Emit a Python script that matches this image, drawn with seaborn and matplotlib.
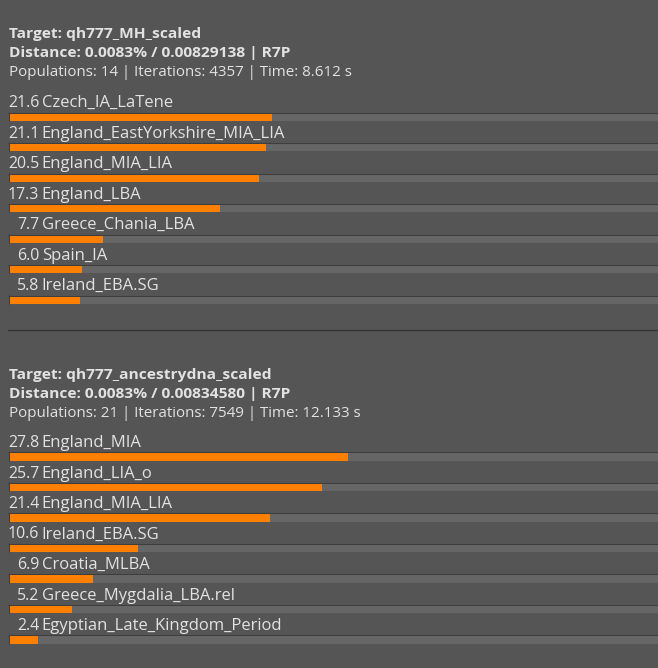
import numpy as np
import matplotlib
matplotlib.use("Agg")
import matplotlib.pyplot as plt
import matplotlib.transforms as mtransforms
import seaborn as sns

# ---------------- data ----------------
headers1 = ["Target: qh777_MH_scaled",
            "Distance: 0.0083% / 0.00829138 | R7P",
            "Populations: 14 | Iterations: 4357 | Time: 8.612 s"]
pops1 = ["Czech_IA_LaTene", "England_EastYorkshire_MIA_LIA", "England_MIA_LIA",
         "England_LBA", "Greece_Chania_LBA", "Spain_IA", "Ireland_EBA.SG"]
vals1 = [21.6, 21.1, 20.5, 17.3, 7.7, 6.0, 5.8]

headers2 = ["Target: qh777_ancestrydna_scaled",
            "Distance: 0.0083% / 0.00834580 | R7P",
            "Populations: 21 | Iterations: 7549 | Time: 12.133 s"]
pops2 = ["England_MIA", "England_LIA_o", "England_MIA_LIA", "Ireland_EBA.SG",
         "Croatia_MLBA", "Greece_Mygdalia_LBA.rel", "Egyptian_Late_Kingdom_Period"]
vals2 = [27.8, 25.7, 21.4, 10.6, 6.9, 5.2, 2.4]

# ---------------- style ----------------
W, H = 658, 668
BG = "#555555"
TRACK = "#666666"
BORDER = "#3e3e3e"
ORANGE = "#ff8000"
TXT = "#e2e2e2"
FONT = "Open Sans"
FS_HEAD = 10.9
FS_BOLD = 11.15
FS_NUM = 11.4
FS_NAME = 11.95

sns.set_theme(style="white")
plt.rcParams["font.family"] = [FONT, "DejaVu Sans"]

fig = plt.figure(figsize=(W / 100, H / 100), dpi=100, facecolor=BG)

PX_PER_UNIT = 12.18   # bar length pixels per percent
PITCH = 30.5          # row pitch in pixels
FILL_H = 7.8          # bar thickness in pixels
X0 = 9                # left of bars in pixels


def panel(headers, pops, vals, header_base, first_center):
    # headers
    for i, t in enumerate(headers):
        y = header_base + [0, 19.0, 37.7][i]
        fig.text(X0 / W, 1 - y / H, t, color=TXT,
                 fontsize=FS_BOLD if i < 2 else FS_HEAD,
                 fontweight="bold" if i < 2 else "normal",
                 va="baseline", ha="left")
    n = len(pops)
    top = first_center - PITCH / 2
    bottom = first_center + PITCH * (n - 1) + PITCH / 2
    ax = fig.add_axes([X0 / W, 1 - bottom / H, (W - X0) / W, (bottom - top) / H])
    ax.set_facecolor("none")
    xmax = (W - X0) / PX_PER_UNIT
    h = FILL_H / PITCH
    track = [xmax] * n
    sns.barplot(x=track, y=pops, order=pops, color=TRACK, saturation=1,
                width=h, linewidth=0, ax=ax)
    sns.barplot(x=vals, y=pops, order=pops, color=ORANGE, saturation=1,
                width=h, linewidth=0, ax=ax)
    ax.set_xlim(0, xmax)
    ax.set_ylim(n - 0.5, -0.5)
    pos = np.arange(n)
    # top and left border line of each track
    ax.hlines(pos - h / 2 - 0.5 / PITCH, -1 / PX_PER_UNIT, xmax, color=BORDER,
              lw=0.75, clip_on=False)
    ax.vlines(np.full(n, -0.5 / PX_PER_UNIT), pos - h / 2 - 1 / PITCH, pos + h / 2,
              color=BORDER, lw=0.75, clip_on=False)
    # labels
    base = mtransforms.offset_copy(ax.get_yaxis_transform(), fig=fig, x=0, y=9.7,
                                   units="dots")
    xn = (39.3 - X0) / (W - X0)
    xl = (41.7 - X0) / (W - X0)
    for p, v, name in zip(pos, vals, pops):
        ax.text(xn, p, f"{v:.1f}", transform=base, ha="right", va="baseline",
                color=TXT, fontsize=FS_NUM)
        ax.text(xl, p, name, transform=base, ha="left", va="baseline",
                color=TXT, fontsize=FS_NAME)
    ax.set_xlabel("")
    ax.set_ylabel("")
    ax.set_xticks([])
    ax.set_yticks([])
    for s in ax.spines.values():
        s.set_visible(False)
    return ax


panel(headers1, pops1, vals1, 38.3, 117.0)
panel(headers2, pops2, vals2, 379.0, 456.7)

# separator line
fig.add_artist(plt.Line2D([8 / W, 1], [1 - 330.3 / H, 1 - 330.3 / H],
                          color="#333333", lw=1.0, transform=fig.transFigure))

fig.savefig("out.png", dpi=100, facecolor=BG)
